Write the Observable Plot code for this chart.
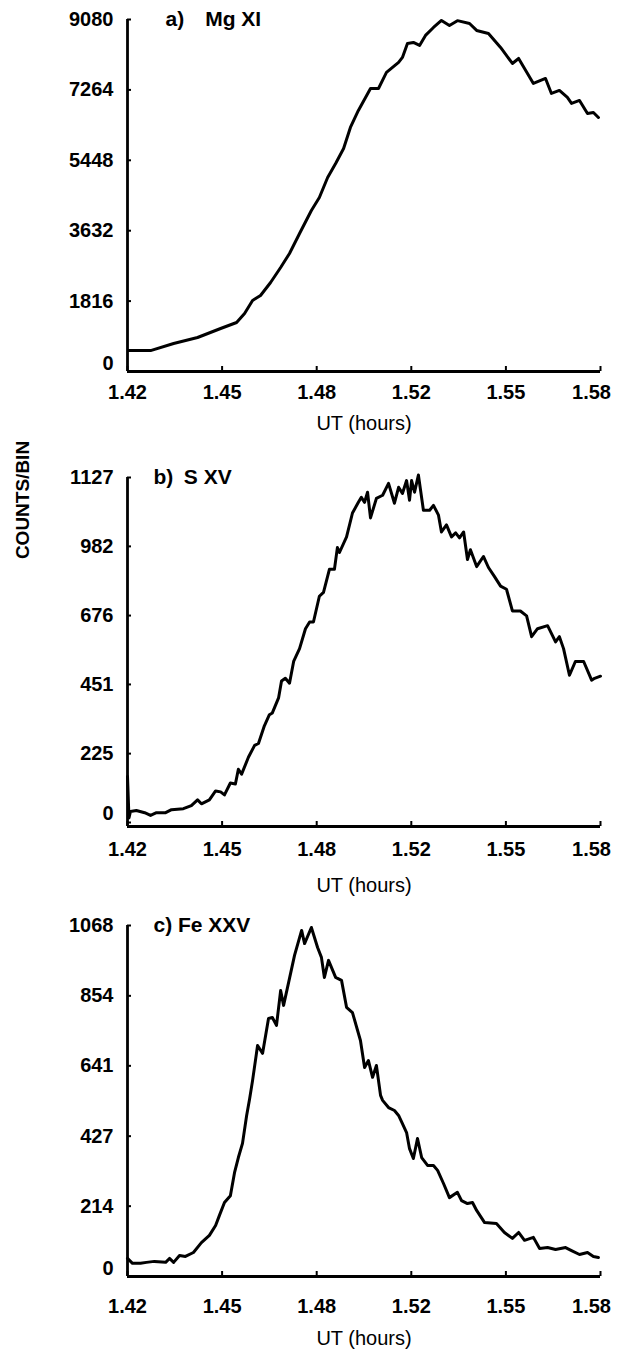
<!DOCTYPE html>
<html>
<head>
<meta charset="utf-8">
<script src="https://cdn.jsdelivr.net/npm/d3@7"></script>
<script src="https://cdn.jsdelivr.net/npm/@observablehq/plot@0.6"></script>
<style>
  html, body { margin: 0; padding: 0; background: #fff; }
  #wrap { position: relative; width: 618px; height: 1353px; overflow: hidden; background: #fff; }
  #wrap svg { position: absolute; left: 0; }
  #ylab { position: absolute; left: 23px; top: 500px; transform: translate(-50%, -50%) rotate(-90deg);
          font: bold 19px 'Liberation Sans', Arial, sans-serif; white-space: nowrap; color: #000; }
</style>
</head>
<body>
<div id="wrap"><div id="ylab">COUNTS/BIN</div></div>
<script>
// ---------- data ----------
const xTicks  = [1.42, 1.452, 1.484, 1.516, 1.548, 1.58];
const xLabels = ["1.42", "1.45", "1.48", "1.52", "1.55", "1.58"];

const titleA = "a)\u2003Mg XI";
const yTicksA  = [0, 1816, 3632, 5448, 7264, 9080];
const yLabelsA = ["0", "1816", "3632", "5448", "7264", "9080"];
const timeA = [1.4203,1.4278,1.4356,1.4437,1.4515,1.4569,1.4596,1.4623,1.4650,1.4684,1.4718,1.4748,1.4782,1.4822,1.4849,1.4877,1.4904,1.4931,1.4954,1.4981,1.5022,1.5049,1.5076,1.5117,1.5130,1.5147,1.5167,1.5188,1.5208,1.5235,1.5262,1.5289,1.5316,1.5357,1.5381,1.5421,1.5462,1.5502,1.5523,1.5543,1.5573,1.5614,1.5634,1.5661,1.5688,1.5702,1.5729,1.5756,1.5776,1.5793];
const countsA = [542,540,722,877,1109,1264,1496,1832,1961,2296,2683,3044,3560,4154,4489,5005,5366,5753,6295,6734,7301,7301,7714,7972,8101,8462,8488,8411,8669,8875,9056,8927,9050,8978,8798,8720,8359,7946,8075,7817,7430,7559,7172,7250,7069,6914,6992,6656,6682,6553];

const titleB = "b)\u2002S XV";
const yTicksB  = [0, 225, 451, 676, 902, 1127];
const yLabelsB = ["0", "225", "451", "676", "982", "1127"];
const timeB = [1.4200,1.4205,1.4210,1.4230,1.4258,1.4278,1.4298,1.4329,1.4349,1.4389,1.4416,1.4437,1.4450,1.4477,1.4498,1.4515,1.4528,1.4548,1.4565,1.4575,1.4586,1.4609,1.4630,1.4643,1.4663,1.4680,1.4690,1.4711,1.4721,1.4734,1.4748,1.4762,1.4782,1.4802,1.4816,1.4829,1.4849,1.4863,1.4883,1.4900,1.4910,1.4917,1.4941,1.4961,1.4981,1.4991,1.5002,1.5012,1.5022,1.5042,1.5063,1.5083,1.5103,1.5117,1.5130,1.5144,1.5154,1.5161,1.5171,1.5184,1.5201,1.5222,1.5235,1.5252,1.5262,1.5279,1.5296,1.5310,1.5323,1.5337,1.5350,1.5360,1.5381,1.5404,1.5421,1.5441,1.5462,1.5482,1.5502,1.5529,1.5550,1.5567,1.5587,1.5621,1.5648,1.5661,1.5675,1.5695,1.5715,1.5743,1.5770,1.5780,1.5800];
const countsB = [150,15,36,39,32,23,32,32,42,45,55,74,61,74,103,100,90,129,126,174,158,213,252,258,316,352,358,407,462,471,455,526,568,633,655,655,739,752,827,827,898,882,933,1011,1046,1062,1046,1079,995,1059,1069,1108,1043,1095,1075,1117,1053,1117,1079,1135,1020,1020,1036,1004,949,972,933,946,930,949,859,891,836,869,833,804,772,762,691,691,675,607,633,643,590,607,568,481,526,526,465,471,478];

const titleC = "c) Fe XXV";
const yTicksC  = [0, 214, 427, 641, 854, 1068];
const yLabelsC = ["0", "214", "427", "641", "854", "1068"];
const timeC = [1.4200,1.4217,1.4244,1.4264,1.4291,1.4329,1.4342,1.4356,1.4376,1.4396,1.4423,1.4450,1.4477,1.4498,1.4511,1.4528,1.4548,1.4562,1.4575,1.4589,1.4603,1.4613,1.4623,1.4640,1.4657,1.4677,1.4690,1.4704,1.4718,1.4728,1.4748,1.4765,1.4789,1.4799,1.4822,1.4843,1.4856,1.4866,1.4880,1.4904,1.4924,1.4941,1.4961,1.4988,1.5002,1.5015,1.5029,1.5042,1.5056,1.5063,1.5083,1.5103,1.5117,1.5130,1.5144,1.5154,1.5167,1.5181,1.5195,1.5215,1.5235,1.5249,1.5269,1.5289,1.5316,1.5330,1.5350,1.5367,1.5381,1.5408,1.5448,1.5475,1.5502,1.5523,1.5543,1.5573,1.5594,1.5621,1.5648,1.5682,1.5702,1.5729,1.5756,1.5776,1.5793];
const countsC = [55,40,40,43,46,43,55,43,64,61,73,103,125,155,186,225,246,316,362,405,490,540,596,703,679,785,788,764,870,825,907,977,1053,1013,1062,1001,971,910,962,910,901,819,803,718,636,657,606,642,551,536,514,505,490,465,438,389,359,420,362,338,338,323,283,240,256,231,222,225,201,164,161,134,116,134,110,119,85,88,82,88,79,67,73,61,58];

// ---------- drawing ----------
const FONT = "'Liberation Sans', Arial, sans-serif";
const W = 618, ML = 127, MR = 18;

function panel(cfg) {
  const data = cfg.times.map((t, i) => ({t, v: cfg.counts[i]}));
  const innerH = cfg.height - cfg.marginTop - cfg.marginBottom;
  const innerW = W - ML - MR;
  const xMap = new Map(xTicks.map((t, i) => [t, xLabels[i]]));
  const yMap = new Map(cfg.yTicks.map((t, i) => [t, cfg.yLabels[i]]));
  const ymax = cfg.yTicks[cfg.yTicks.length - 1];
  const lastX = xTicks[xTicks.length - 1];
  const axisXOpts = {tickSize: 0, tickPadding: cfg.xPad, tickFormat: d => xMap.get(d),
    fontSize: 20, fontWeight: "bold", label: null};
  const axisYOpts = {tickSize: 0, tickPadding: 14, tickFormat: d => yMap.get(d),
    fontSize: 20, fontWeight: "bold", label: null};
  const svg = Plot.plot({
    width: W, height: cfg.height,
    marginLeft: ML, marginRight: MR, marginTop: cfg.marginTop, marginBottom: cfg.marginBottom,
    insetBottom: cfg.insetBottom,
    x: {domain: [1.42, 1.58]},
    y: {domain: [0, ymax]},
    style: {fontFamily: FONT, color: "#000", background: "transparent", overflow: "visible"},
    marks: [
      Plot.ruleX([1.42], {stroke: "#000", strokeWidth: 2.8}),
      Plot.ruleY([0], {stroke: "#000", strokeWidth: 2.8, dy: cfg.insetBottom}),
      Plot.tickX(xTicks, {x: d => d, stroke: "#000", strokeWidth: 2, insetTop: innerH - 5}),
      Plot.tickY(cfg.yTicks, {y: d => d, stroke: "#000", strokeWidth: 2, insetRight: innerW - 4}),
      Plot.axisX(xTicks.filter(d => d !== lastX), axisXOpts),
      Plot.axisX([lastX], {...axisXOpts, dx: -9}),
      Plot.axisY(cfg.yTicks.filter(d => d > 0), axisYOpts),
      Plot.axisY([0], {...axisYOpts, dy: cfg.zeroDy}),
      Plot.line(data, {x: "t", y: "v", stroke: "#000", strokeWidth: 3, strokeLinejoin: "round"}),
      Plot.text([cfg.title], {frameAnchor: "top-left", dx: cfg.titleDx, textAnchor: "start",
        lineAnchor: "middle", fontSize: 21, fontWeight: "bold"}),
      Plot.text(["UT (hours)"], {frameAnchor: "bottom", dy: cfg.utDy, fontSize: 20, lineAnchor: "middle"})
    ]
  });
  svg.style.top = cfg.top + "px";
  document.getElementById("wrap").appendChild(svg);
}

panel({top: 0, height: 440, marginTop: 19, marginBottom: 69, insetBottom: 0,
  yTicks: yTicksA, yLabels: yLabelsA, times: timeA, counts: countsA,
  title: titleA, titleDx: 38, xPad: 13, utDy: 52, zeroDy: -8});
panel({top: 440, height: 460, marginTop: 37, marginBottom: 74, insetBottom: 4,
  yTicks: yTicksB, yLabels: yLabelsB, times: timeB, counts: countsB,
  title: titleB, titleDx: 26, xPad: 15, utDy: 59, zeroDy: -9});
panel({top: 900, height: 453, marginTop: 25, marginBottom: 77, insetBottom: 0,
  yTicks: yTicksC, yLabels: yLabelsC, times: timeC, counts: countsC,
  title: titleC, titleDx: 26, xPad: 22, utDy: 62, zeroDy: -8});
</script>
</body>
</html>
